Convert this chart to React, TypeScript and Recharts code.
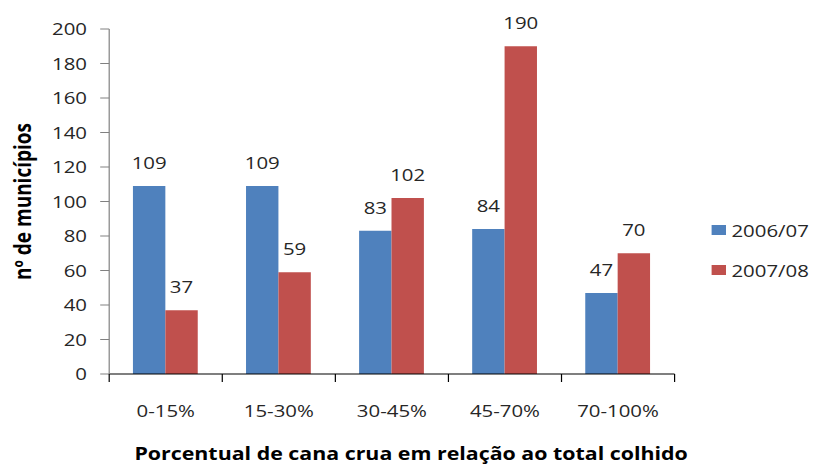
import { BarChart, Bar, XAxis, YAxis, LabelList } from "recharts";

const categories = ["0-15%", "15-30%", "30-45%", "45-70%", "70-100%"];
const series2006 = [109, 109, 83, 84, 47];
const series2007 = [37, 59, 102, 190, 70];
const yTicks = [0, 20, 40, 60, 80, 100, 120, 140, 160, 180, 200];
const seriesNames = ["2006/07", "2007/08"];
const seriesColors = ["#4F81BD", "#C0504D"];

const data = categories.map((c, i) => ({
  cat: c,
  a: series2006[i],
  b: series2007[i],
}));

// the reference is stretched horizontally, so the chart is drawn narrower and scaled
const SX = 1.2;
const W = 815 / SX;
const H = 464;
const X_AXIS_H = 30;
const margin = { top: 29, right: 117, left: 0, bottom: 90 - X_AXIS_H };
const Y_AXIS_W = 91;
const plotW = W - margin.right - Y_AXIS_W;
const band = plotW / categories.length;
const FONT = "'Open Sans', sans-serif";
const TEXT = "#262626";
const FS = 17;

function XTick(props: any) {
  const { x, y, payload, index } = props;
  const isLast = index === categories.length - 1;
  return (
    <g>
      <line x1={x - band / 2} x2={x - band / 2} y1={y} y2={y + 8} stroke="#000" />
      {isLast && (
        <line x1={x + band / 2} x2={x + band / 2} y1={y} y2={y + 8} stroke="#000" />
      )}
      <text x={x} y={y + 43} textAnchor="middle" fontSize={FS} fill={TEXT} fontFamily={FONT}>
        {payload.value}
      </text>
    </g>
  );
}

function YTitle(props: any) {
  const { viewBox } = props;
  const cy = viewBox.y + viewBox.height / 2;
  return (
    <text
      x={19}
      y={cy}
      transform={`rotate(-90 19 ${cy})`}
      textAnchor="middle"
      dominantBaseline="central"
      fontSize={19}
      fontWeight="bold"
      fill="#000"
      fontFamily={FONT}
    >
      nº de municípios
    </text>
  );
}

function XTitle() {
  return (
    <text
      x={W / 2 + 3}
      y={460}
      textAnchor="middle"
      fontSize={17.8}
      fontWeight="bold"
      fill="#000"
      fontFamily={FONT}
    >
      Porcentual de cana crua em relação ao total colhido
    </text>
  );
}

export default function App() {
  return (
    <div
      style={{
        position: "absolute",
        left: 0,
        top: 0,
        width: W,
        height: H,
        transform: `scaleX(${SX})`,
        transformOrigin: "0 0",
        background: "#fff",
      }}
    >
      <BarChart
        width={W}
        height={H}
        data={data}
        margin={margin}
        barCategoryGap="21%"
        barGap={0}
      >
        <XAxis
          dataKey="cat"
          height={X_AXIS_H}
          axisLine={{ stroke: "#000" }}
          tickLine={false}
          tickSize={0}
          tickMargin={0}
          tick={<XTick />}
          interval={0}
          label={<XTitle />}
        />
        <YAxis
          width={Y_AXIS_W}
          domain={[0, 200]}
          ticks={yTicks}
          interval={0}
          axisLine={{ stroke: "#808080" }}
          tickLine={{ stroke: "#808080" }}
          tickSize={7.5}
          tickMargin={11}
          tick={{ fontSize: FS, fill: TEXT, fontFamily: FONT }}
          label={<YTitle />}
        />
        <Bar dataKey="a" fill={seriesColors[0]} isAnimationActive={false}>
          <LabelList
            dataKey="a"
            position="top"
            offset={17}
            style={{ fontSize: FS, fill: TEXT, fontFamily: FONT }}
          />
        </Bar>
        <Bar dataKey="b" fill={seriesColors[1]} isAnimationActive={false}>
          <LabelList
            dataKey="b"
            position="top"
            offset={17}
            style={{ fontSize: FS, fill: TEXT, fontFamily: FONT }}
          />
        </Bar>
      </BarChart>
      <div
        style={{
          position: "absolute",
          left: 593,
          top: 218,
          fontFamily: FONT,
          fontSize: FS,
          color: TEXT,
        }}
      >
        {seriesNames.map((name, i) => (
          <div
            key={name}
            style={{ display: "flex", alignItems: "center", height: 24, marginBottom: 16 }}
          >
            <span
              style={{
                display: "inline-block",
                width: 11.5,
                height: 10,
                background: seriesColors[i],
                marginRight: 5,
              }}
            />
            <span>{name}</span>
          </div>
        ))}
      </div>
    </div>
  );
}
